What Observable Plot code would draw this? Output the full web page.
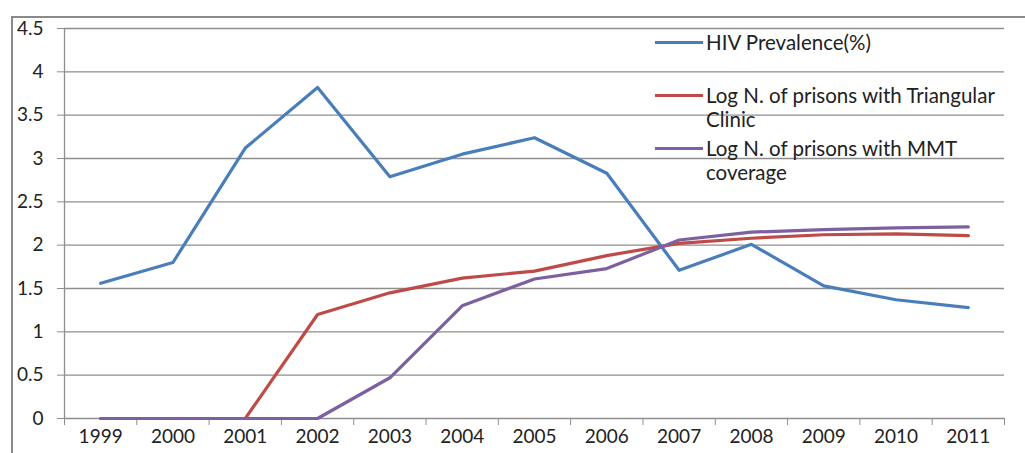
<!DOCTYPE html>
<html>
<head>
<meta charset="utf-8">
<script src="https://cdn.jsdelivr.net/npm/d3@7"></script>
<script src="https://cdn.jsdelivr.net/npm/@observablehq/plot@0.6"></script>
<style>
  html, body { margin: 0; padding: 0; background: #fff; }
  #wrap { position: relative; width: 1025px; height: 453px; overflow: hidden; font-family: Lato, "Open Sans", sans-serif; }
  #frame { position: absolute; left: 11px; top: 16px; width: 1100px; height: 500px; border-top: 2px solid #8a8a8a; border-left: 2px solid #8a8a8a; box-sizing: border-box; }
  #chart { position: absolute; left: 0; top: 0; }
  .legend { position: absolute; left: 655px; font-size: 20.5px; color: #222; line-height: 24px; }
  .legend .row { position: absolute; white-space: nowrap; }
  .legend .sw { position: absolute; left: 0; width: 48px; height: 3px; }
  .legend .lab { position: absolute; left: 51px; top: 0; }
</style>
</head>
<body>
<div id="wrap">
  <div id="frame"></div>
  <div id="chart"></div>
  <div class="legend" id="legend"></div>
</div>
<script>
const years = [1999, 2000, 2001, 2002, 2003, 2004, 2005, 2006, 2007, 2008, 2009, 2010, 2011];
const hivPrevalence = [1.56, 1.80, 3.12, 3.82, 2.79, 3.05, 3.24, 2.83, 1.71, 2.01, 1.53, 1.37, 1.28];
const logTriangular = [0, 0, 0, 1.20, 1.45, 1.62, 1.70, 1.88, 2.02, 2.08, 2.12, 2.13, 2.11];
const logMMT = [0, 0, 0, 0, 0.47, 1.30, 1.61, 1.73, 2.06, 2.15, 2.18, 2.20, 2.21];
const seriesNames = ["HIV Prevalence(%)", "Log N. of prisons with Triangular Clinic", "Log N. of prisons with MMT coverage"];
const seriesLegendLines = [["HIV Prevalence(%)"], ["Log N. of prisons with Triangular", "Clinic"], ["Log N. of prisons with MMT", "coverage"]];
const seriesColors = ["#4A7EBB", "#BE4B48", "#7D60A0"];
const yTicks = [0, 0.5, 1, 1.5, 2, 2.5, 3, 3.5, 4, 4.5];

const allSeries = [hivPrevalence, logTriangular, logMMT];
const rows = [];
allSeries.forEach((vals, si) => {
  vals.forEach((v, i) => rows.push({ year: years[i], value: v, series: seriesNames[si] }));
});
const boundaries = years.map(y => y - 0.5).concat([years[years.length - 1] + 0.5]);

const gridColor = "#8e8e8e";
const font = "Lato, 'Open Sans', sans-serif";

const plot = Plot.plot({
  width: 1025,
  height: 453,
  marginLeft: 64,
  marginRight: 21,
  marginTop: 28,
  marginBottom: 35,
  style: { fontFamily: font, fontSize: "19px", color: "#222", background: "transparent" },
  x: { domain: [years[0] - 0.5, years[years.length - 1] + 0.5] },
  y: { domain: [0, 4.5] },
  color: { domain: seriesNames, range: seriesColors },
  marks: [
    Plot.gridY(yTicks.filter(t => t > 0), { stroke: gridColor, strokeOpacity: 1, strokeWidth: 1.3 }),
    Plot.ruleX([boundaries[0]], { stroke: gridColor, strokeWidth: 1.3 }),
    Plot.ruleY([0], { stroke: gridColor, strokeWidth: 1.3 }),
    Plot.axisY({ ticks: yTicks, tickSize: 7, tickPadding: 14, stroke: gridColor, tickFormat: d => String(d), label: null, fill: "#222" }),
    Plot.axisX({ ticks: boundaries, tickSize: 7, tickFormat: () => "", stroke: gridColor, label: null }),
    Plot.axisX({ ticks: years, tickSize: 0, tickPadding: 11, tickFormat: d => String(d), label: null, fill: "#222" }),
    Plot.line(rows, { x: "year", y: "value", z: "series", stroke: "series", strokeWidth: 3.2, strokeLinejoin: "round", strokeLinecap: "round" })
  ]
});
document.getElementById("chart").appendChild(plot);

// Legend
const legend = document.getElementById("legend");
const legendTops = [30, 83, 136];
seriesNames.forEach((name, i) => {
  const row = document.createElement("div");
  row.className = "row";
  row.style.top = legendTops[i] + "px";
  const sw = document.createElement("div");
  sw.className = "sw";
  sw.style.background = seriesColors[i];
  sw.style.top = "11px";
  const lab = document.createElement("div");
  lab.className = "lab";
  lab.innerHTML = seriesLegendLines[i].join("<br>");
  row.appendChild(sw);
  row.appendChild(lab);
  legend.appendChild(row);
});
</script>
</body>
</html>
